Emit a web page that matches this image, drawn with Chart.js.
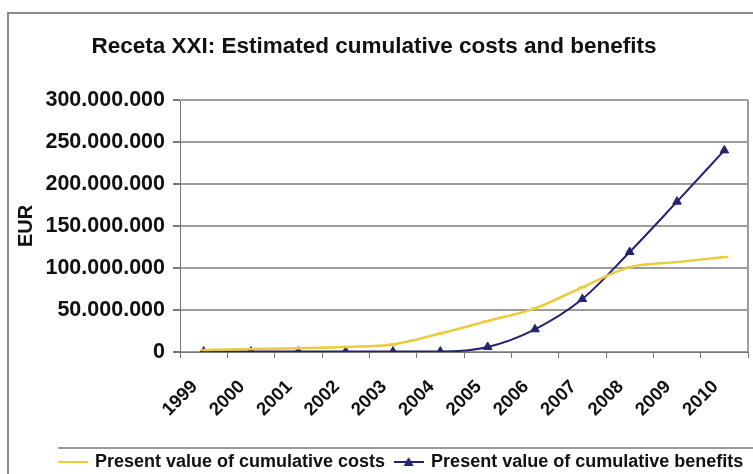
<!DOCTYPE html>
<html>
<head>
<meta charset="utf-8">
<script src="https://cdn.jsdelivr.net/npm/chart.js@4.4.1/dist/chart.umd.min.js"></script>
<style>
  html, body { margin: 0; padding: 0; background: #fff; }
  #wrap { width: 753px; height: 474px; overflow: hidden; position: relative; }
  #chart { position: absolute; left: 0; top: 0; }
</style>
</head>
<body>
<div id="wrap"><canvas id="chart" width="770" height="481"></canvas></div>
<script>
// data (EUR)
const years = ['1999', '2000', '2001', '2002', '2003', '2004', '2005', '2006', '2007', '2008', '2009', '2010'];
const costs = [2500000, 3500000, 4500000, 6000000, 9000000, 22000000, 37000000, 52000000, 77000000, 101000000, 107000000, 113000000];
const benefits = [500000, 500000, 500000, 500000, 500000, 500000, 6000000, 27000000, 63000000, 119000000, 179000000, 240000000];
const yMax = 300000000;
const yStep = 50000000;

const FONT = "'Liberation Sans', Arial, sans-serif";
const YELLOW = '#eccb3c';
const NAVY = '#232370';

// legend swatches: a short line with the series marker on it
function swatch(color, triangle) {
  const c = document.createElement('canvas');
  c.width = 30; c.height = 14;
  const g = c.getContext('2d');
  g.strokeStyle = color; g.lineWidth = 2;
  g.beginPath(); g.moveTo(0, 7); g.lineTo(30, 7); g.stroke();
  if (triangle) {
    g.fillStyle = color;
    g.beginPath(); g.moveTo(15, 2); g.lineTo(20, 11); g.lineTo(10, 11); g.closePath(); g.fill();
  }
  return c;
}
const swatches = [swatch(YELLOW, false), swatch(NAVY, true)];

const fmt = v => String(v).replace(/\B(?=(\d{3})+(?!\d))/g, '.');

const decor = {
  id: 'decor',
  beforeDraw(chart) {
    const ctx = chart.ctx;
    ctx.save();
    ctx.fillStyle = '#fff';
    ctx.fillRect(0, 0, chart.width, chart.height);
    ctx.strokeStyle = '#8a8a8a';
    ctx.lineWidth = 2;
    ctx.strokeRect(8, 13, chart.width + 20, chart.height + 20);
    ctx.restore();
  },
  afterLayout(chart) {
    // legend box in the reference starts further right and runs off the picture
    chart.legend.left = 49;
    chart.legend.right = chart.width + 200;
  },
  afterDraw(chart) {
    const ctx = chart.ctx, a = chart.chartArea;
    ctx.save();
    ctx.strokeStyle = '#9c9c9c';
    ctx.lineWidth = 2;
    ctx.beginPath(); ctx.moveTo(a.right, a.top); ctx.lineTo(a.right, a.bottom); ctx.stroke();
    ctx.strokeStyle = '#9a9a9a';
    ctx.beginPath(); ctx.moveTo(58, 448); ctx.lineTo(chart.width, 448); ctx.stroke();
    ctx.restore();
  }
};

new Chart(document.getElementById('chart'), {
  type: 'line',
  data: {
    labels: years,
    datasets: [
      {
        label: 'Present value of cumulative costs',
        data: costs,
        borderColor: YELLOW,
        backgroundColor: YELLOW,
        borderWidth: 2.5,
        pointStyle: 'line',
        pointRadius: 4,
        pointBorderWidth: 2,
        cubicInterpolationMode: 'monotone',
      },
      {
        label: 'Present value of cumulative benefits',
        data: benefits,
        borderColor: NAVY,
        backgroundColor: NAVY,
        borderWidth: 2,
        pointStyle: 'triangle',
        pointRadius: 5,
        pointBorderWidth: 1,
        cubicInterpolationMode: 'monotone',
      },
    ],
  },
  options: {
    responsive: false,
    animation: false,
    devicePixelRatio: 1,
    layout: {padding: {left: 0, right: 22, top: 0, bottom: 0}},
    plugins: {
      title: {
        display: true,
        text: 'Receta XXI: Estimated cumulative costs and benefits',
        color: '#111',
        font: {family: FONT, size: 22.5, weight: 'bold'},
        padding: {top: 33.5, bottom: 39.5},
      },
      legend: {
        position: 'bottom',
        align: 'start',
        labels: {
          usePointStyle: true,
          pointStyleWidth: 27,
          padding: 10,
          color: '#111',
          font: {family: FONT, size: 18, weight: 'bold'},
          generateLabels(chart) {
            const items = Chart.defaults.plugins.legend.labels.generateLabels(chart);
            items.forEach((it, i) => { it.pointStyle = swatches[i]; });
            return items;
          },
        },
      },
      tooltip: {enabled: false},
    },
    scales: {
      x: {
        offset: true,
        grid: {offset: true, drawOnChartArea: false, tickLength: 6, color: '#777'},
        border: {color: '#777', width: 1},
        ticks: {
          autoSkip: false, minRotation: 45, maxRotation: 45, padding: 18, labelOffset: -9,
          color: '#111', font: {family: FONT, size: 18.5, weight: 'bold'},
        },
        afterFit(s) { s.height = 91; },
      },
      y: {
        min: 0,
        max: yMax,
        grid: {color: '#9c9c9c', lineWidth: 2, tickLength: 7, tickColor: '#777'},
        border: {color: '#777', width: 1},
        ticks: {
          stepSize: yStep, padding: 8, color: '#111',
          font: {family: FONT, size: 21.5, weight: 'bold'},
          callback: v => fmt(v),
        },
        title: {
          display: true, text: 'EUR', color: '#111',
          font: {family: FONT, size: 20, weight: 'bold'},
          padding: {top: 14, bottom: 0},
        },
        afterFit(s) { s.width = 180; },
      },
    },
  },
  plugins: [decor],
});
</script>
</body>
</html>
